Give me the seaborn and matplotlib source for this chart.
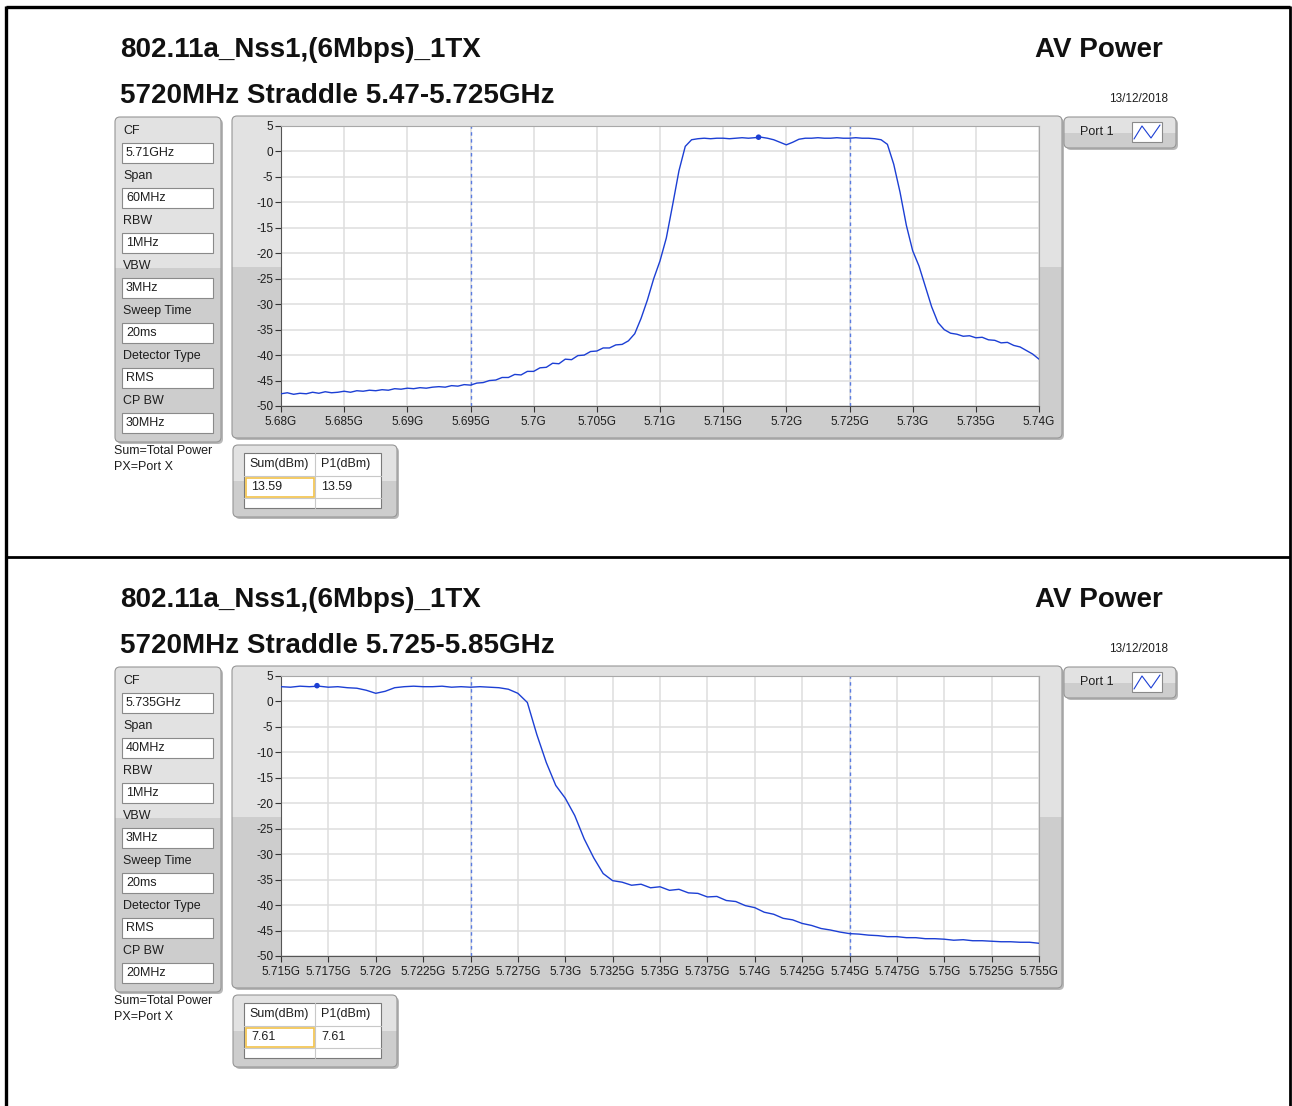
import numpy as np
import pandas as pd
import matplotlib.pyplot as plt
from matplotlib.patches import FancyBboxPatch, Rectangle
import seaborn as sns

W, H = 1292, 1106

# text
TITLE = "802.11a_Nss1,(6Mbps)_1TX"
RIGHT_TITLE = "AV Power"
DATE = "13/12/2018"
SUBTITLES = ["5720MHz Straddle 5.47-5.725GHz", "5720MHz Straddle 5.725-5.85GHz"]
SETTING_NAMES = ["CF", "Span", "RBW", "VBW", "Sweep Time", "Detector Type", "CP BW"]
SETTINGS_1 = ["5.71GHz", "60MHz", "1MHz", "3MHz", "20ms", "RMS", "30MHz"]
SETTINGS_2 = ["5.735GHz", "40MHz", "1MHz", "3MHz", "20ms", "RMS", "20MHz"]
TABLE_HEAD = ["Sum(dBm)", "P1(dBm)"]
TABLE_1 = ["13.59", "13.59"]
TABLE_2 = ["7.61", "7.61"]
NOTES = ["Sum=Total Power", "PX=Port X"]
PORT = "Port 1"

# sweep 1 : 5.68 - 5.74 GHz, 0.5 MHz steps
START_1, STOP_1 = 5.68, 5.74
POWER_1 = [
    -47.6, -47.4, -47.7, -47.5, -47.6, -47.3, -47.5, -47.2, -47.4, -47.3,
    -47.1, -47.3, -47.0, -47.1, -46.9, -47.0, -46.8, -46.9, -46.6, -46.7,
    -46.5, -46.6, -46.4, -46.5, -46.3, -46.2, -46.3, -46.0, -46.1, -45.8,
    -45.9, -45.5, -45.4, -45.0, -44.9, -44.4, -44.4, -43.8, -43.9, -43.2,
    -43.2, -42.5, -42.4, -41.6, -41.7, -40.8, -40.9, -40.1, -40.0, -39.3,
    -39.2, -38.6, -38.6, -38.0, -37.9, -37.2, -35.8, -32.8, -29.2, -25.0,
    -21.5, -17.0, -10.5, -3.8, 1.0, 2.3, 2.5, 2.6, 2.5, 2.6,
    2.6, 2.5, 2.6, 2.7, 2.6, 2.7, 2.8, 2.6, 2.3, 1.8,
    1.3, 1.8, 2.4, 2.6, 2.6, 2.7, 2.6, 2.6, 2.7, 2.6,
    2.6, 2.7, 2.6, 2.6, 2.5, 2.3, 1.4, -2.5, -8.0, -14.5,
    -19.5, -22.5, -26.5, -30.5, -33.6, -35.0, -35.7, -35.9, -36.3, -36.2,
    -36.6, -36.5, -37.0, -37.1, -37.6, -37.5, -38.1, -38.4, -39.1, -39.8,
    -40.8,
]
MARKER_1 = (5.7178, 2.8)
LINES_1 = [5.695, 5.725]
XTICKS_1 = [5.68, 5.685, 5.69, 5.695, 5.7, 5.705, 5.71, 5.715, 5.72, 5.725,
            5.73, 5.735, 5.74]
XLABELS_1 = ["5.68G", "5.685G", "5.69G", "5.695G", "5.7G", "5.705G", "5.71G",
             "5.715G", "5.72G", "5.725G", "5.73G", "5.735G", "5.74G"]

# sweep 2 : 5.715 - 5.755 GHz, 0.5 MHz steps
START_2, STOP_2 = 5.715, 5.755
POWER_2 = [
    2.9, 2.8, 3.0, 2.9, 3.0, 2.8, 2.9, 2.7, 2.6, 2.2,
    1.6, 2.0, 2.7, 2.9, 3.0, 2.9, 2.9, 3.0, 2.8, 2.9,
    2.8, 2.9, 2.8, 2.7, 2.4, 1.6, -0.2, -6.5, -12.0, -16.5,
    -19.0, -22.4, -27.0, -30.7, -33.8, -35.2, -35.5, -36.1, -35.9, -36.6,
    -36.4, -37.1, -36.9, -37.6, -37.7, -38.4, -38.3, -39.1, -39.3, -40.1,
    -40.5, -41.4, -41.8, -42.6, -42.9, -43.6, -44.0, -44.6, -44.9, -45.3,
    -45.6, -45.7, -45.9, -46.0, -46.2, -46.2, -46.4, -46.4, -46.6, -46.6,
    -46.7, -46.9, -46.8, -47.0, -47.0, -47.1, -47.2, -47.2, -47.3, -47.3,
    -47.5,
]
MARKER_2 = (5.7169, 3.1)
LINES_2 = [5.725, 5.745]
XTICKS_2 = [5.715, 5.7175, 5.72, 5.7225, 5.725, 5.7275, 5.73, 5.7325, 5.735,
            5.7375, 5.74, 5.7425, 5.745, 5.7475, 5.75, 5.7525, 5.755]
XLABELS_2 = ["5.715G", "5.7175G", "5.72G", "5.7225G", "5.725G", "5.7275G",
             "5.73G", "5.7325G", "5.735G", "5.7375G", "5.74G", "5.7425G",
             "5.745G", "5.7475G", "5.75G", "5.7525G", "5.755G"]

YTICKS = [5, 0, -5, -10, -15, -20, -25, -30, -35, -40, -45, -50]

BLUE = "#1c3fd4"
DASH = "#5a7be0"
TXT = "#1e1e1e"

sns.set_theme(style="white")
plt.rcParams['font.family'] = ['Liberation Sans', 'DejaVu Sans']
plt.rcParams['axes.unicode_minus'] = False

fig = plt.figure(figsize=(W / 100, H / 100), dpi=100)
bg = fig.add_axes([0, 0, 1, 1])
bg.set_xlim(0, W)
bg.set_ylim(H, 0)
bg.axis('off')


def panel(x0, y0, x1, y1, split=None, light='#e2e2e2', dark='#cdcdcd', r=5):
    style = f"round,pad=0,rounding_size={r}"
    bg.add_patch(FancyBboxPatch((x0 + 2, y0 + 2), x1 - x0, y1 - y0, boxstyle=style,
                                fc='#b8b8b8', ec='none', zorder=1))
    box = FancyBboxPatch((x0, y0), x1 - x0, y1 - y0, boxstyle=style,
                         fc=light, ec='none', zorder=2)
    bg.add_patch(box)
    if split is not None:
        low = Rectangle((x0, split), x1 - x0, y1 - split, fc=dark, ec='none', zorder=2.1)
        bg.add_patch(low)
        low.set_clip_path(box)
    bg.add_patch(FancyBboxPatch((x0, y0), x1 - x0, y1 - y0, boxstyle=style,
                                fc='none', ec='#969696', lw=0.8, zorder=2.2))


# outer frame
bg.plot([6, 6], [6, H], color='black', lw=2.4, solid_capstyle='butt', zorder=5)
bg.plot([6, 1290], [7, 7], color='black', lw=2.4, solid_capstyle='butt', zorder=5)
bg.plot([1290, 1290], [6, H], color='black', lw=2.0, solid_capstyle='butt', zorder=5)
bg.plot([6, 1290], [557, 557], color='black', lw=2.0, solid_capstyle='butt', zorder=5)

sweeps = [
    (0, START_1, STOP_1, POWER_1, MARKER_1, LINES_1, XTICKS_1, XLABELS_1, SETTINGS_1, TABLE_1, SUBTITLES[0]),
    (550, START_2, STOP_2, POWER_2, MARKER_2, LINES_2, XTICKS_2, XLABELS_2, SETTINGS_2, TABLE_2, SUBTITLES[1]),
]

for dy, start, stop, power, marker, lines, xt, xl, settings, table, subtitle in sweeps:
    # headings
    bg.text(120, 50 + dy, TITLE, fontsize=20, fontweight='bold', color='#111111',
            ha='left', va='center')
    bg.text(1163, 50 + dy, RIGHT_TITLE, fontsize=20, fontweight='bold', color='#111111',
            ha='right', va='center')
    bg.text(120, 96 + dy, subtitle, fontsize=20, fontweight='bold', color='#111111',
            ha='left', va='center')
    bg.text(1168, 99 + dy, DATE, fontsize=8.5, color=TXT, ha='right', va='center')

    # settings cluster
    panel(115, 117 + dy, 221, 442 + dy, split=268 + dy)
    for i, (name, val) in enumerate(zip(SETTING_NAMES, settings)):
        yy = 131 + 45 * i + dy
        bg.text(123, yy, name, fontsize=9, color=TXT, ha='left', va='center', zorder=6)
        bg.add_patch(Rectangle((122, yy + 12), 91, 20, fc='white', ec='#8a8a8a',
                               lw=0.8, zorder=6))
        bg.text(126, yy + 22, val, fontsize=9, color=TXT, ha='left', va='center', zorder=7)
    bg.text(114, 451 + dy, NOTES[0], fontsize=9, color=TXT, ha='left', va='center')
    bg.text(114, 467 + dy, NOTES[1], fontsize=9, color=TXT, ha='left', va='center')

    # graph frame
    panel(232, 116 + dy, 1062, 438 + dy, split=267 + dy)

    # port legend
    panel(1064, 117 + dy, 1176, 148 + dy, split=133 + dy)
    bg.text(1080, 132 + dy, PORT, fontsize=9, color=TXT, ha='left', va='center', zorder=6)
    bg.add_patch(Rectangle((1132, 122 + dy), 30, 20, fc='white', ec='#8a8a8a',
                           lw=0.8, zorder=6))
    bg.plot([1134, 1142, 1151, 1160], [139 + dy, 126 + dy, 138 + dy, 125 + dy],
            color=BLUE, lw=0.8, zorder=7)

    # result table
    panel(233, 445 + dy, 397, 517 + dy, split=481 + dy)
    bg.add_patch(Rectangle((244, 453 + dy), 137, 55, fc='white', ec='#7a7a7a',
                           lw=0.8, zorder=6))
    bg.plot([315, 315], [453 + dy, 508 + dy], color='#c8c8c8', lw=0.8, zorder=7)
    bg.plot([244, 381], [476 + dy, 476 + dy], color='#c8c8c8', lw=0.8, zorder=7)
    bg.plot([244, 381], [498 + dy, 498 + dy], color='#c8c8c8', lw=0.8, zorder=7)
    bg.text(279, 464 + dy, TABLE_HEAD[0], fontsize=9, color=TXT, ha='center', va='center', zorder=8)
    bg.text(346, 464 + dy, TABLE_HEAD[1], fontsize=9, color=TXT, ha='center', va='center', zorder=8)
    bg.add_patch(Rectangle((246, 478 + dy), 68, 19, fc='white', ec='#f2c24a',
                           lw=1.2, zorder=8))
    bg.text(251, 487 + dy, table[0], fontsize=9, color=TXT, ha='left', va='center', zorder=9)
    bg.text(321, 487 + dy, table[1], fontsize=9, color=TXT, ha='left', va='center', zorder=9)

    # spectrum plot
    ax = fig.add_axes([281 / W, 1 - (406 + dy) / H, 758 / W, 280 / H])
    ax.set_facecolor('white')
    freq = np.linspace(start, stop, len(power))
    df = pd.DataFrame({'freq': freq, 'power': power})
    ax.grid(True, color='#dedede', lw=1.1)
    ax.set_axisbelow(True)
    for f in lines:
        ax.axvline(f, color=DASH, ls=(0, (2.5, 2.5)), lw=1.0, zorder=2)
    sns.lineplot(data=df, x='freq', y='power', ax=ax, color=BLUE, lw=1.0,
                 estimator=None, zorder=3)
    sns.scatterplot(x=[marker[0]], y=[marker[1]], ax=ax, color=BLUE, s=16,
                    edgecolor='none', zorder=4)
    ax.set_xlim(start, stop)
    ax.set_ylim(-50, 5)
    ax.set_yticks(YTICKS)
    ax.set_yticklabels([str(v) for v in YTICKS])
    ax.set_xticks(xt)
    ax.set_xticklabels(xl)
    ax.set_xlabel('')
    ax.set_ylabel('')
    ax.tick_params(axis='both', direction='out', length=4, width=0.8, color='#333333',
                   labelsize=8.5, labelcolor=TXT, bottom=True, left=True)
    ax.tick_params(axis='x', pad=3)
    ax.tick_params(axis='y', pad=1.5)
    for side in ['left', 'bottom']:
        ax.spines[side].set_color('#555555')
        ax.spines[side].set_linewidth(0.8)
    for side in ['top', 'right']:
        ax.spines[side].set_color('#a8a8a8')
        ax.spines[side].set_linewidth(0.8)

fig.savefig('out.png', dpi=100)
